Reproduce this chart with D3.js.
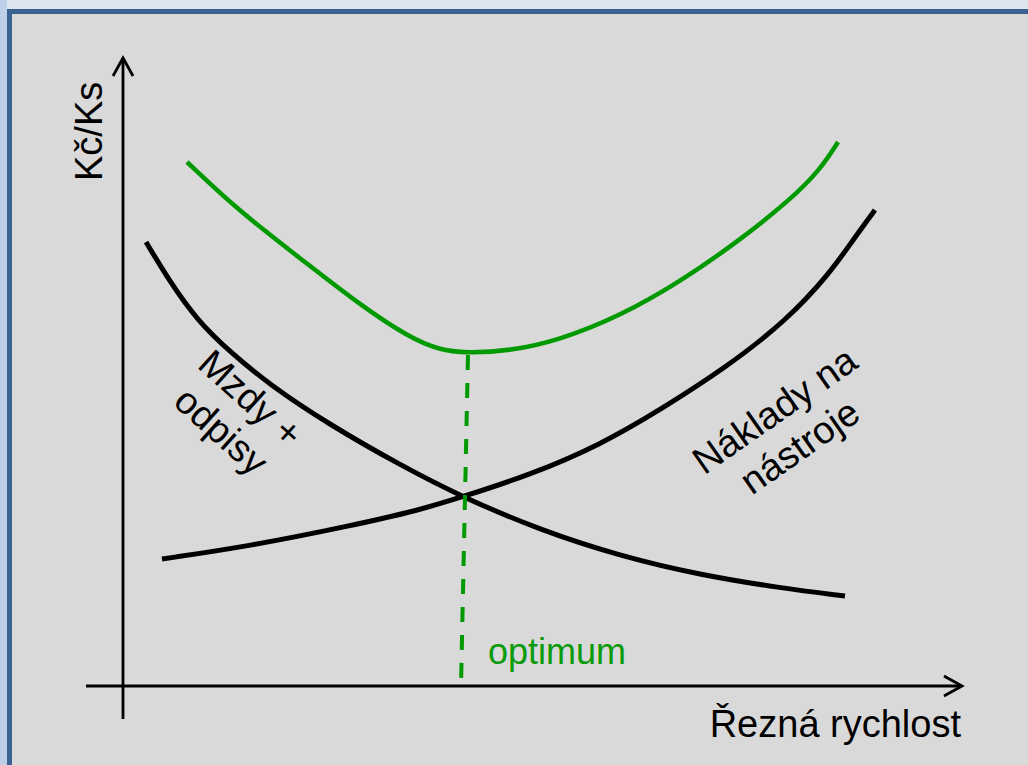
<!DOCTYPE html>
<html><head><meta charset="utf-8">
<script src="https://cdn.jsdelivr.net/npm/d3@7"></script>
<style>html,body{margin:0;padding:0;background:#dde5f0;}svg{display:block;}</style>
</head><body>
<script>
// Data (x: cutting speed units 0-100, y: cost units 0-100)
const wagesX  = [2.74,5.60,8.81,12.74,17.50,24.64,32.98,40.36,49.64,59.17,68.69,78.21,85.95];
const wagesY  = [70.70,64.33,58.28,53.18,47.93,41.56,35.19,30.10,24.84,20.70,17.68,15.61,14.33];
const toolsX  = [4.64,15.12,27.02,35.36,40.36,48.45,56.79,63.93,71.90,79.05,84.17,86.90,89.52];
const toolsY  = [20.22,22.29,25.48,28.03,30.10,33.60,38.38,43.95,50.80,58.28,65.76,71.02,75.80];
const totalX  = [7.62,13.93,21.07,28.21,34.17,37.74,40.71,46.07,52.02,59.17,66.31,73.45,79.40,82.98,85.12];
const totalY  = [83.44,75.48,68.15,60.67,55.41,53.50,53.03,53.34,55.10,58.92,64.33,71.02,77.39,82.17,86.62];
const optimumX = [41.07,40.24];
const optimumY = [52.71,0];
const yLabel = "Kč/Ks";
const xLabel = "Řezná rychlost";
const wagesLabel = ["Mzdy +","odpisy"];
const toolsLabel = ["Náklady na","nástroje"];
const optimumLabel = "optimum";

const W=1028,H=765;
const svg=d3.select("body").append("svg").attr("width",W).attr("height",H);
// slide frame
svg.append("rect").attr("x",0).attr("y",0).attr("width",W).attr("height",H).attr("fill","#dde5f0");
svg.append("rect").attr("x",0).attr("y",0).attr("width",7).attr("height",H).attr("fill","#bdd0e8");
svg.append("rect").attr("x",7).attr("y",9).attr("width",W).attr("height",H).attr("fill","#3b6391");
svg.append("rect").attr("x",12).attr("y",14).attr("width",W).attr("height",H).attr("fill","#d9d9d9");

const x=d3.scaleLinear().domain([0,100]).range([123,963]);
const y=d3.scaleLinear().domain([0,100]).range([686,58]);

// axes
const ax=svg.append("g").attr("stroke","#000").attr("stroke-width",2.8).attr("fill","none");
ax.append("line").attr("x1",x(0)).attr("x2",x(0)).attr("y1",y(100)).attr("y2",719);
ax.append("line").attr("x1",86).attr("x2",x(100)-1).attr("y1",y(0)).attr("y2",y(0));
ax.append("path").attr("d",`M${x(0)-10},${y(100)+18}L${x(0)},${y(100)}L${x(0)+10},${y(100)+18}`);
ax.append("path").attr("d",`M${x(100)-19},${y(0)-10}L${x(100)-1},${y(0)}L${x(100)-19},${y(0)+10}`);

const line=d3.line().x(d=>x(d[0])).y(d=>y(d[1])).curve(d3.curveBasis);
const zip=(a,b)=>a.map((v,i)=>[v,b[i]]);

svg.append("path").attr("d",line(zip(wagesX,wagesY))).attr("fill","none").attr("stroke","#000").attr("stroke-width",5).attr("stroke-linecap","butt");
svg.append("path").attr("d",line(zip(toolsX,toolsY))).attr("fill","none").attr("stroke","#000").attr("stroke-width",5);
svg.append("path").attr("d",line(zip(totalX,totalY))).attr("fill","none").attr("stroke","#009a00").attr("stroke-width",4.5);
svg.append("line").attr("x1",x(optimumX[0])).attr("y1",y(optimumY[0])).attr("x2",x(optimumX[1])).attr("y2",y(optimumY[1]))
  .attr("stroke","#009a00").attr("stroke-width",4).attr("stroke-dasharray","15,13");

const font="'Liberation Sans', Arial, sans-serif";
svg.append("text").attr("transform","translate(102,181) rotate(-90)").attr("font-family",font).attr("font-size",38).attr("fill","#000").text(yLabel);
svg.append("text").attr("x",961).attr("y",737).attr("text-anchor","end").attr("font-family",font).attr("font-size",38).attr("fill","#000").text(xLabel);
svg.append("text").attr("x",488).attr("y",664).attr("font-family",font).attr("font-size",36).attr("fill","#0a9a0a").text(optimumLabel);

function multi(lines,cx,cy,ang){
  const t=svg.append("text").attr("transform",`translate(${cx},${cy}) rotate(${ang})`)
    .attr("font-family",font).attr("font-size",38).attr("text-anchor","middle").attr("fill","#000");
  lines.forEach((l,i)=>t.append("tspan").attr("x",0).attr("y",i*44).text(l));
}
multi(wagesLabel,242,408,42);
multi(toolsLabel,782,421,-35);
</script>
</body></html>
